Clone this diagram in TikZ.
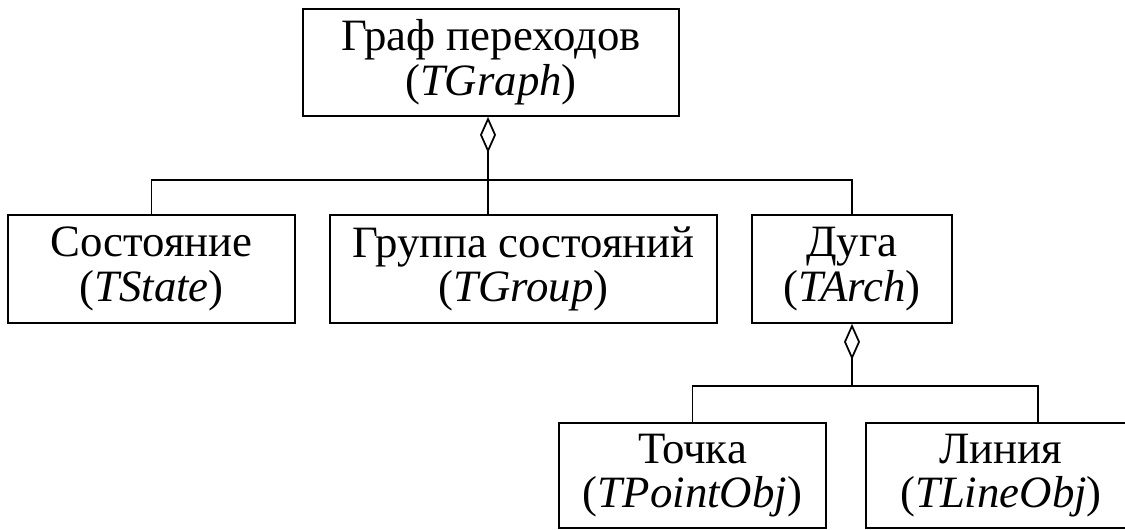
\documentclass[tikz,border=0pt]{standalone}
\usepackage{fontspec}
\setmainfont{Liberation Serif}
\usetikzlibrary{arrows.meta}
\begin{document}
\begin{tikzpicture}[x=0.02cm,y=-0.02cm,
  box/.style={draw,line width=1pt,rectangle,inner sep=0pt,align=center,
    font=\fontsize{25.5}{25.5}\selectfont},
  conn/.style={line width=1pt},
  agg/.style={conn,-{Diamond[open,length=0.72cm,width=0.32cm,line width=1pt]}}]
\useasboundingbox (0,0) rectangle (1125,529);
\node[box,minimum width=7.52cm,minimum height=2.14cm] (graph) at (491,62.5) {Граф переходов\\(\textit{TGraph})};
\node[box,minimum width=5.74cm,minimum height=2.16cm] (state) at (151.5,269) {Состояние\\(\textit{TState})};
\node[box,minimum width=7.74cm,minimum height=2.16cm] (group) at (523.5,269) {Группа состояний\\(\textit{TGroup})};
\node[box,minimum width=4.0cm,minimum height=2.16cm] (arch) at (852,269) {Дуга\\(\textit{TArch})};
\node[box,minimum width=5.34cm,minimum height=2.10cm] (point) at (692.5,475.5) {Точка\\(\textit{TPointObj})};
\node[box,minimum width=5.40cm,minimum height=2.10cm] (line) at (1001,475.5) {Линия\\(\textit{TLineObj})};
\coordinate (j1) at (488,180);
\coordinate (j2) at (852,386);
\coordinate (rr) at (1038,386);
\draw[conn] (state.north) |- (j1) -| (arch.north);
\draw[agg] (group.north -| j1) -- (graph.south -| j1);
\draw[conn] (point.north) |- (j2) -- (rr) -- (line.north -| rr);
\draw[agg] (j2) -- (arch.south);
\end{tikzpicture}
\end{document}
